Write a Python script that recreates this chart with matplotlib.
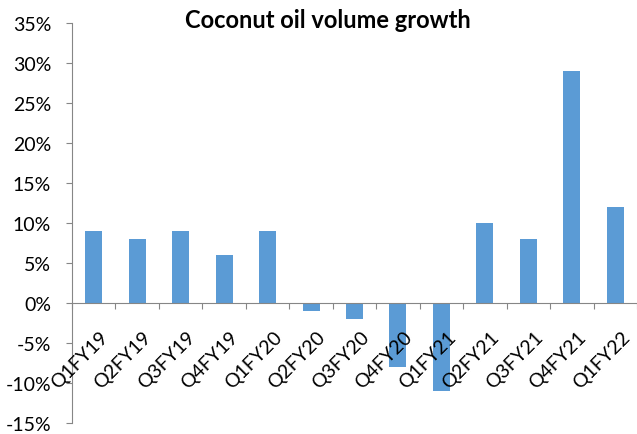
import numpy as np
import matplotlib
matplotlib.use("Agg")
from matplotlib import pyplot as plt
from matplotlib.ticker import FuncFormatter

quarters = ['Q1FY19', 'Q2FY19', 'Q3FY19', 'Q4FY19', 'Q1FY20', 'Q2FY20', 'Q3FY20',
            'Q4FY20', 'Q1FY21', 'Q2FY21', 'Q3FY21', 'Q4FY21', 'Q1FY22']
growth = [9, 8, 9, 6, 9, -1, -2, -8, -11, 10, 8, 29, 12]

plt.rcParams['font.family'] = ['Lato', 'DejaVu Sans']

fig = plt.figure(figsize=(6.37, 4.35), dpi=100)
ax = fig.add_axes([72 / 637, 1 - 424 / 435, (637 - 72) / 637, (424 - 24) / 435])

x = np.arange(len(quarters))
ax.bar(x, growth, width=0.39, color='#5B9BD5')

ax.set_xlim(-0.5, len(quarters) - 0.5)
ax.set_ylim(-15, 35)
ax.set_yticks(range(-15, 36, 5))
ax.yaxis.set_major_formatter(FuncFormatter(lambda v, p: '%d%%' % v))
ax.tick_params(axis='y', labelsize=14, length=4, color='#868686', pad=11)

# x axis sits at zero with ticks between categories
ax.spines['bottom'].set_position(('data', 0))
ax.spines['bottom'].set_color('#868686')
ax.spines['left'].set_color('#868686')
ax.spines['top'].set_visible(False)
ax.spines['right'].set_visible(False)
ax.set_xticks(np.arange(len(quarters) + 1) - 0.5)
ax.set_xticklabels([])
ax.tick_params(axis='x', length=4, color='#868686', direction='out')

for xi, q in zip(x, quarters):
    ax.annotate(q, xy=(xi, 0), xytext=(4, -18), textcoords='offset points',
                rotation=45, ha='right', va='top', fontsize=14,
                rotation_mode='anchor')

fig.text(328 / 637, 1 - 20 / 435, 'Coconut oil volume growth', ha='center', va='center',
         fontsize=17, fontweight='bold')

fig.savefig('out.png', dpi=100)
